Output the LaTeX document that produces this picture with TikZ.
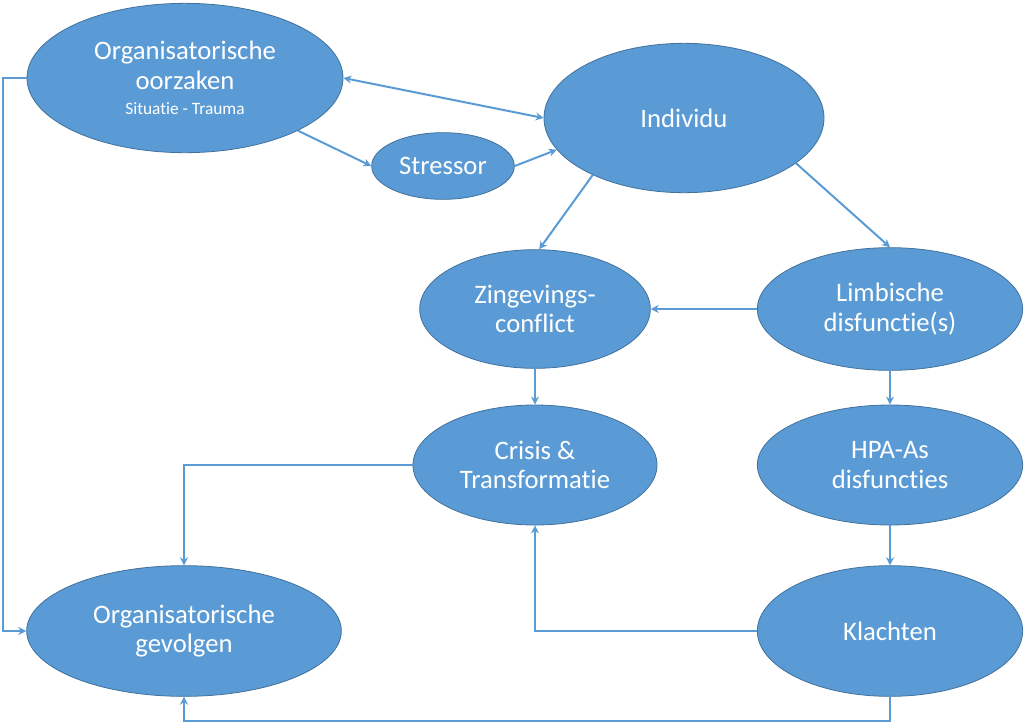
\documentclass[tikz,border=0pt]{standalone}
\usepackage{fontspec}
\setmainfont{Carlito}[Ligatures=NoCommon]
\usetikzlibrary{shapes.geometric,arrows.meta}
\definecolor{ovalfill}{HTML}{5B9BD5}
\definecolor{ovalline}{HTML}{41719C}

\begin{document}
\begin{tikzpicture}[x=0.75pt,y=-0.75pt,
  oval/.style={ellipse,draw=ovalline,line width=0.6pt,fill=ovalfill,text=white,
    align=center,inner sep=0pt,font=\fontsize{20}{22}\selectfont},
  link/.style={draw=ovalfill,line width=1.5pt,-{Stealth[length=6pt,width=6pt]}}]
  \useasboundingbox (0,0) rectangle (1024,722);

  \node[oval,minimum width=237pt,minimum height=112pt] (oorz) at (185,78)
    {Organisatorische\\oorzaken\\[-3pt]{\fontsize{13}{15}\selectfont Situatie - Trauma}};
  \node[oval,minimum width=210pt,minimum height=112pt] (indiv) at (684,118) {Individu};
  \node[oval,minimum width=107pt,minimum height=50pt] (stres) at (443,166) {Stressor};
  \node[oval,minimum width=173pt,minimum height=89pt] (zing) at (535,309) {Zingevings-\\conflict};
  \node[oval,minimum width=199pt,minimum height=92pt] (limb) at (890,309) {Limbische\\disfunctie(s)};
  \node[oval,minimum width=183pt,minimum height=90pt] (crisis) at (535,465) {Crisis \&\\Transformatie};
  \node[oval,minimum width=199pt,minimum height=90pt] (hpa) at (890,465) {HPA-As\\disfuncties};
  \node[oval,minimum width=236pt,minimum height=98pt] (gevolg) at (184,631) {Organisatorische\\gevolgen};
  \node[oval,minimum width=199pt,minimum height=98pt] (klacht) at (890,631) {Klachten};

  \path[every edge/.style={link}]
    (oorz.east) edge[{Stealth[length=6pt,width=6pt]}-{Stealth[length=6pt,width=6pt]}] (indiv.west)
    (oorz.-25) edge (stres.west)
    (stres.east) edge (indiv.194)
    (indiv.212) edge (zing.86)
    (indiv.-22) edge (limb.north)
    (limb.west) edge (zing.east)
    (zing.south) edge (crisis.north)
    (limb.south) edge (hpa.north)
    (hpa.south) edge (klacht.north);
  \draw[link] (crisis.west) -| (gevolg.north);
  \draw[link] (klacht.west) -| (crisis.south);
  \draw[link] (klacht.south) -- ++(0,24) -| (gevolg.south);
  \draw[link] (oorz.west) -- ++(-24,0) |- (gevolg.west);
\end{tikzpicture}
\end{document}
